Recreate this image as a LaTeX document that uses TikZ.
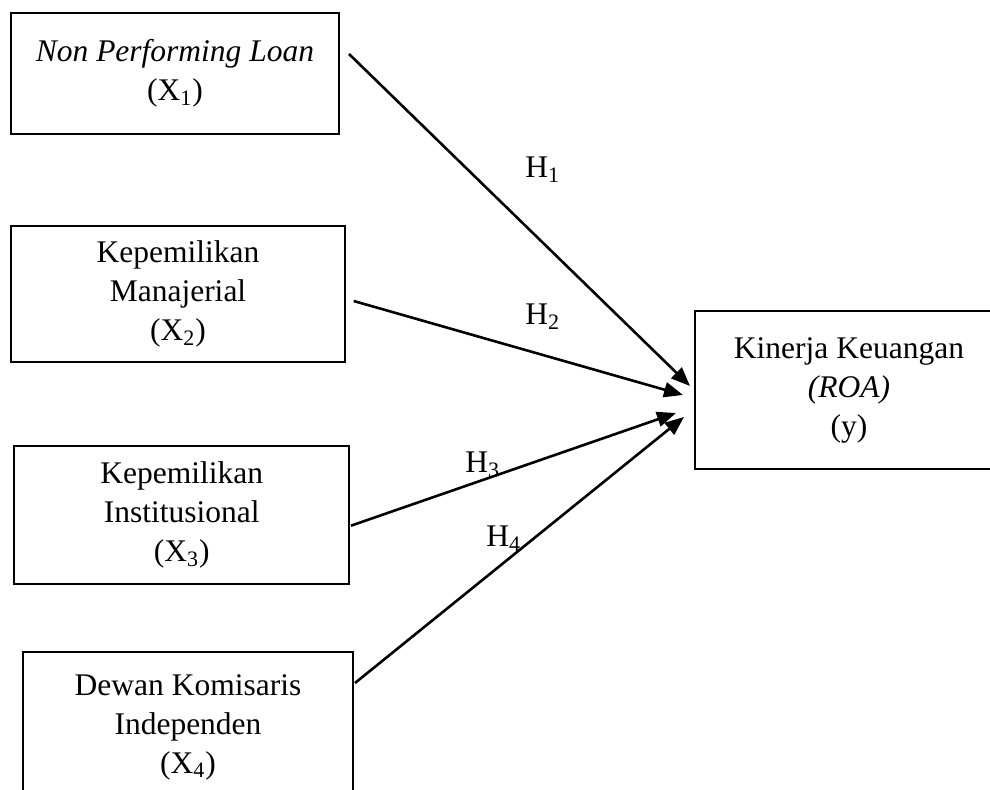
\documentclass[tikz,border=0pt]{standalone}
\usepackage{fontspec}
\setmainfont{Liberation Serif}
\usetikzlibrary{arrows.meta,calc}

\begin{document}
\begin{tikzpicture}[x=0.5pt,y=-0.5pt,
  box/.style={draw,line width=1pt,align=center,inner sep=0pt,font=\fontsize{15.75}{19.5}\selectfont},
  link/.style={line width=1.3pt,-{Triangle[length=9.5pt,width=7.5pt]}},
  hyp/.style={anchor=base west,inner sep=0pt,font=\fontsize{15.75}{19.5}\selectfont}]
\useasboundingbox (0,0) rectangle (990,790);
\node[box,minimum width=164pt,minimum height=60.5pt] (x1) at (175,73.5) {\textit{Non Performing Loan}\\(X\textsubscript{1})};
\node[box,minimum width=167pt,minimum height=68pt] (x2) at (178,294) {Kepemilikan\\Manajerial\\(X\textsubscript{2})};
\node[box,minimum width=167.25pt,minimum height=69pt] (x3) at (181.7,515) {Kepemilikan\\Institusional\\(X\textsubscript{3})};
\node[box,minimum width=165.25pt,minimum height=75pt] (x4) at (188,727) {Dewan Komisaris\\Independen\\(X\textsubscript{4})};
\node[box,minimum width=154.5pt,minimum height=79pt] (y) at (849,390.5) {Kinerja Keuangan\\\textit{(ROA)}\\(y)};
\draw[link] ($(x1.east)+(9,-19.5)$) -- ($(y.west)+(-3.5,-4.5)$);
\draw[link] ($(x2.east)+(7.7,7)$) -- ($(y.west)+(-10.5,4.5)$);
\draw[link] ($(x3.east)+(1,10.7)$) -- ($(y.west)+(-17.5,22.5)$);
\draw[link] ($(x4.east)+(0.75,-44)$) -- ($(y.west)+(-9.5,26.5)$);
\node[hyp] (h1) at (525,178) {H\textsubscript{1}};
\node[hyp] (h2) at (525,325) {H\textsubscript{2}};
\node[hyp] (h3) at (465,472.7) {H\textsubscript{3}};
\node[hyp] (h4) at (486,546.6) {H\textsubscript{4}};
\end{tikzpicture}
\end{document}
